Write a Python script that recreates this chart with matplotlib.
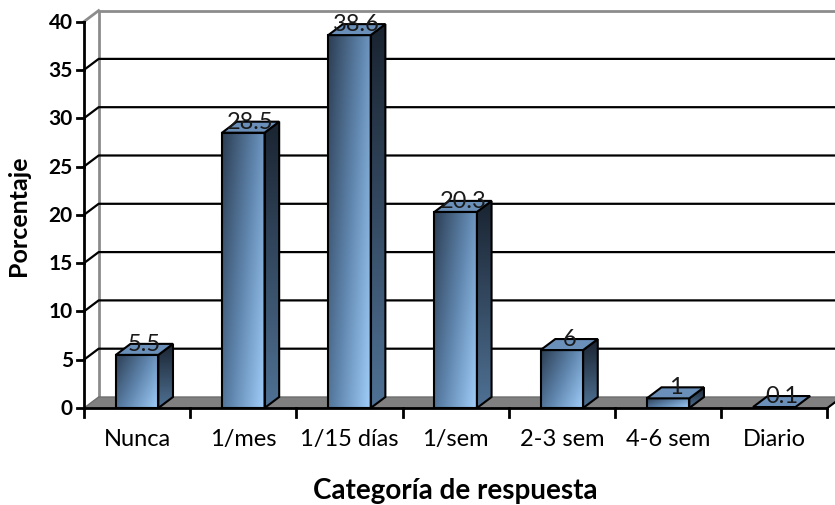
import numpy as np
import matplotlib.pyplot as plt
from matplotlib.patches import Polygon
from matplotlib.colors import LinearSegmentedColormap

plt.rcParams['font.family'] = ['Lato', 'DejaVu Sans']

categorias = ['Nunca', '1/mes', '1/15 días', '1/sem', '2-3 sem', '4-6 sem', 'Diario']
porcentaje = [5.5, 28.5, 38.6, 20.3, 6, 1, 0.1]
etiquetas = ['5.5', '28.5', '38.6', '20.3', '6', '1', '0.1']
yticks = [0, 5, 10, 15, 20, 25, 30, 35, 40]

# pseudo-3D depth offset (data units)
DX, DY = 0.138, 1.14
BW = 0.40
NC = len(categorias)

front_cmap = LinearSegmentedColormap.from_list('front', ['#2c3e54', '#5f85ad', '#a0cefa'])
side_cmap = LinearSegmentedColormap.from_list('side', ['#1a2431', '#4f7194'])

fig = plt.figure(figsize=(8.35, 5.06), dpi=100)
ax = fig.add_axes([0, 0, 1, 1])
ax.axis('off')

xr = (-0.791, 7.072)
yr = (-10.04, 42.34)

# back wall
ax.add_patch(Polygon([(DX, DY), (8, DY), (8, 40 + DY), (DX, 40 + DY)], closed=True,
                     facecolor='white', edgecolor='none', zorder=0))
ax.plot([DX, DX, 8], [DY, 40 + DY, 40 + DY], color='#8c8c8c', lw=2, zorder=1)
ax.plot([0, DX], [40, 40 + DY], color='#8c8c8c', lw=2, zorder=1)
for t in yticks[1:-1]:
    ax.plot([0, DX, 8], [t, t + DY, t + DY], color='black', lw=1.6, zorder=1)

# floor
ax.add_patch(Polygon([(0, 0), (NC, 0), (NC + DX, DY), (DX, DY)], closed=True,
                     facecolor='#808080', edgecolor='#6e6e6e', lw=1, zorder=2))
ax.plot([NC, NC + DX], [0, DY], color='black', lw=1.5, zorder=2)

# bars
for i, v in enumerate(porcentaje):
    x0 = i + 0.5 - BW / 2
    x1 = x0 + BW
    z = 3 + i * 0.01
    if v > 0.3:
        u = np.linspace(0, 1, 60)
        w = np.linspace(0, 1, 60)[:, None]
        grad = 0.62 * u[None, :] + 0.38 * w
        ax.imshow(grad, cmap=front_cmap, extent=(x0, x1, 0, v), origin='upper',
                  aspect='auto', interpolation='bilinear', zorder=z)
        side = Polygon([(x1, 0), (x1 + DX, DY), (x1 + DX, v + DY), (x1, v)], closed=True,
                       facecolor='none', edgecolor='none')
        ax.add_patch(side)
        sg = np.linspace(0, 1, 60)[:, None] * np.ones((1, 4))
        im = ax.imshow(sg, cmap=side_cmap, extent=(x1, x1 + DX, 0, v + DY), origin='upper',
                       aspect='auto', interpolation='bilinear', zorder=z)
        im.set_clip_path(side)
        ax.add_patch(Polygon([(x1, 0), (x1 + DX, DY), (x1 + DX, v + DY), (x1, v)], closed=True,
                             facecolor='none', edgecolor='black', lw=1.5, zorder=z + 0.001))
        ax.add_patch(Polygon([(x0, 0), (x1, 0), (x1, v), (x0, v)], closed=True,
                             facecolor='none', edgecolor='black', lw=1.5, zorder=z + 0.001))
    ax.add_patch(Polygon([(x0, v), (x1, v), (x1 + DX, v + DY), (x0 + DX, v + DY)], closed=True,
                         facecolor='#6a8fb8', edgecolor='black', lw=1.5, zorder=z + 0.002))
    ax.text(i + 0.5 + DX * 0.5, v + DY * 1.05, etiquetas[i], ha='center', va='center',
            fontsize=17, color='#1a1a1a', zorder=10)

# front axes
ax.plot([0, 0], [0, 40], color='black', lw=2, zorder=5)
ax.plot([0, NC], [0, 0], color='black', lw=2, zorder=5)
for t in yticks:
    ax.plot([-0.066, 0], [t, t], color='black', lw=2, zorder=5)
    ax.text(-0.105, t, str(t), ha='right', va='center', fontsize=15, fontweight='bold')
for k in range(NC + 1):
    ax.plot([k, k], [0, -0.95], color='black', lw=2, zorder=5)
for i, c in enumerate(categorias):
    ax.text(i + 0.5, -3.2, c, ha='center', va='center', fontsize=17)

ax.text(3.5, -8.5, 'Categoría de respuesta', ha='center', va='center',
        fontsize=20, fontweight='bold')
ax.text(-0.62, 20.0, 'Porcentaje', ha='center', va='center', rotation=90,
        fontsize=18, fontweight='bold')

ax.set_xlim(*xr)
ax.set_ylim(*yr)

fig.savefig('out.png', dpi=100, facecolor='white')
